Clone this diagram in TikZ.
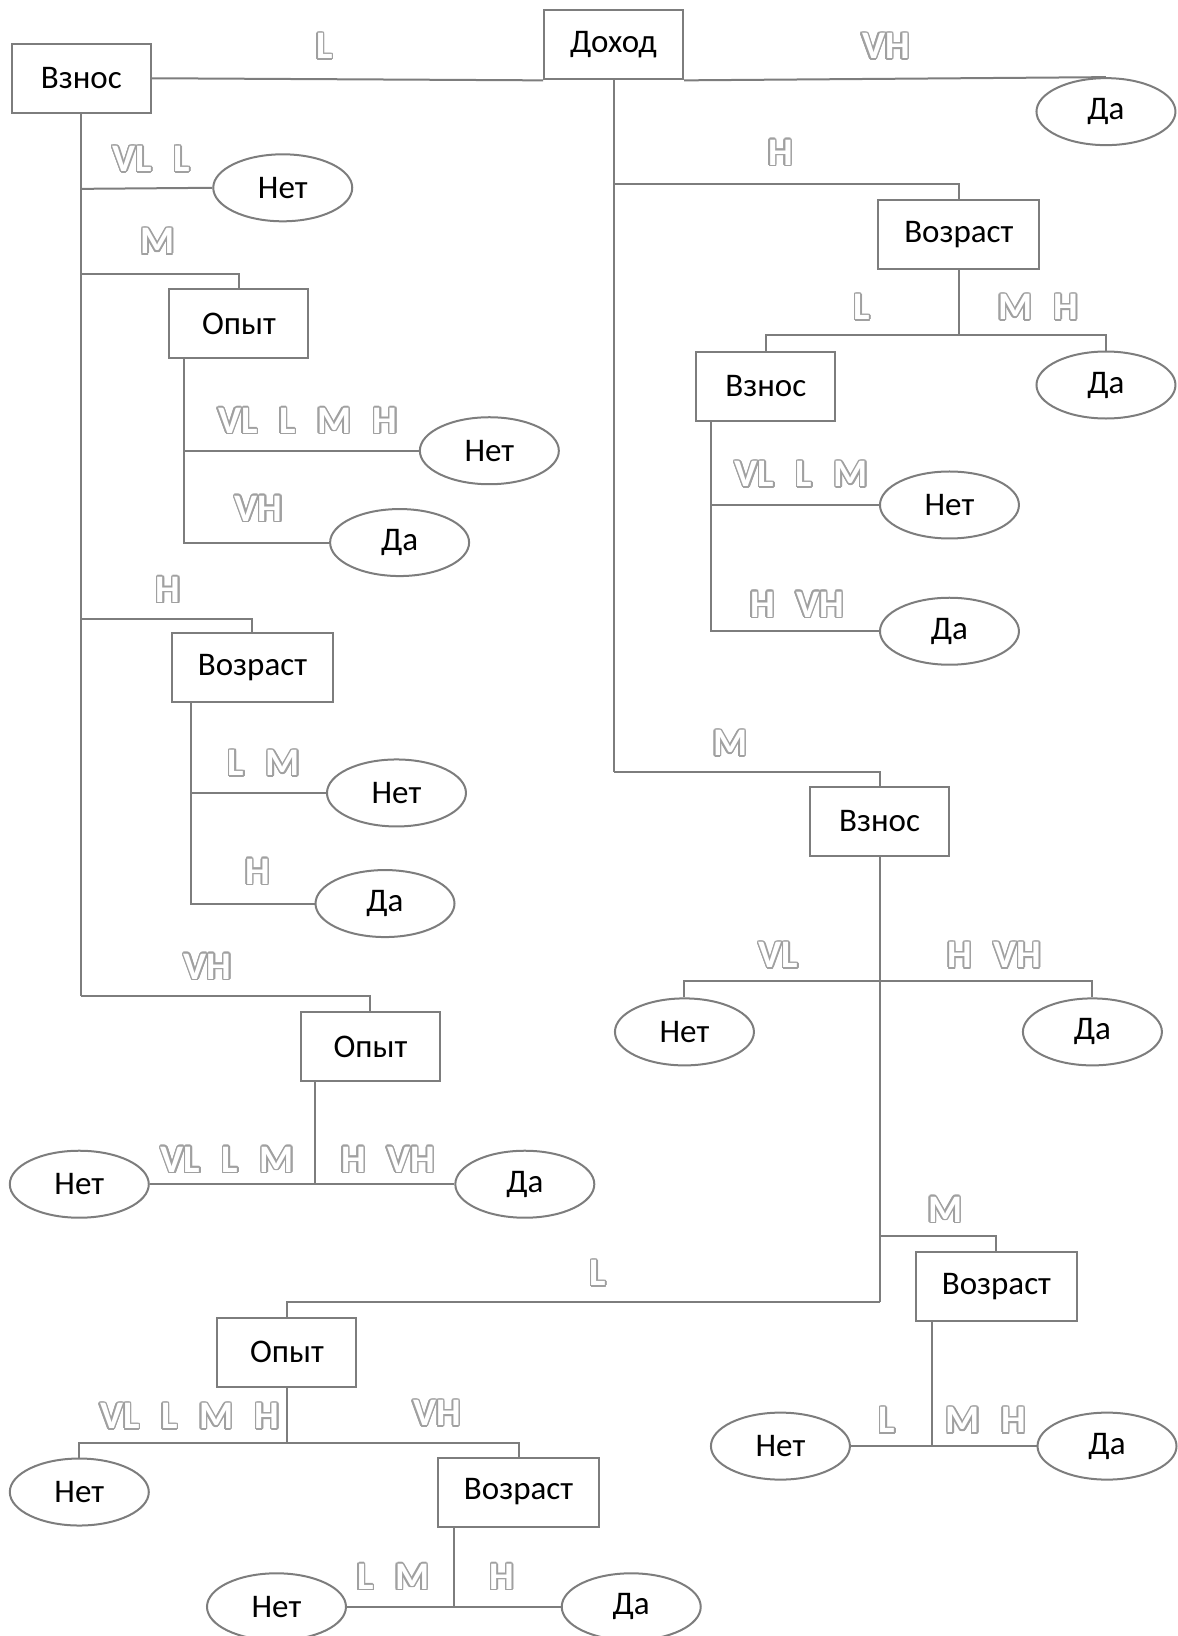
\documentclass[tikz,border=0pt]{standalone}
\usepackage{fontspec}
\setmainfont{Carlito}
\usepackage{contour}
\contourlength{1.5pt}
\usetikzlibrary{shapes.geometric,positioning}
\definecolor{linegray}{RGB}{125,125,125}
\definecolor{lblgray}{RGB}{160,160,160}
\newcommand{\lbl}[1]{\contour{lblgray}{#1}}
\newcommand{\gap}{\hspace{0.55em}}

\tikzset{
  attr/.style={draw=linegray, line width=2pt, rectangle, minimum width=139pt,
    minimum height=69pt, inner sep=0pt, font=\fontsize{33}{36}\selectfont},
  wide/.style={attr, minimum width=161pt},
  leaf/.style={draw=linegray, line width=2pt, ellipse, minimum width=139pt,
    minimum height=67pt, inner sep=0pt, font=\fontsize{33}{36}\selectfont},
  val/.style={text=white, inner sep=0pt, font=\bfseries\fontsize{39}{42}\selectfont},
  edge/.style={draw=linegray, line width=2pt}
}

\begin{document}
\begin{tikzpicture}[x=1.0434pt, y=-1.0434pt]
\useasboundingbox (0,0) rectangle (1129,1568);

% inner nodes
\node[attr] (dohod)  at (588,43)   {Доход};
\node[attr] (vznosA) at (78,75)    {Взнос};
\node[attr] (opytA)  at (229,310)  {Опыт};
\node[wide] (vozrA)  at (242,640)  {Возраст};
\node[attr] (opytB)  at (355,1003) {Опыт};
\node[wide] (vozrB)  at (919,225)  {Возраст};
\node[attr] (vznosB) at (734,370)  {Взнос};
\node[attr] (vznosC) at (843,787)  {Взнос};
\node[wide] (vozrC)  at (955,1233) {Возраст};
\node[attr] (opytC)  at (275,1296) {Опыт};
\node[wide] (vozrD)  at (497,1430) {Возраст};

% leaves
\node[leaf] (daA)  at (1060,107) {Да};
\node[leaf] (netA) at (271,180)  {Нет};
\node[leaf] (netB) at (469,432)  {Нет};
\node[leaf] (daB)  at (383,520)  {Да};
\node[leaf] (netC) at (380,760)  {Нет};
\node[leaf] (daC)  at (369,866)  {Да};
\node[leaf] (netD) at (76,1135)  {Нет};
\node[leaf] (daD)  at (503,1135) {Да};
\node[leaf] (daE)  at (1060,369) {Да};
\node[leaf] (netE) at (910,484)  {Нет};
\node[leaf] (daF)  at (910,605)  {Да};
\node[leaf] (netF) at (656,989)  {Нет};
\node[leaf] (daG)  at (1047,989) {Да};
\node[leaf] (netG) at (748,1386) {Нет};
\node[leaf] (daH)  at (1061,1386) {Да};
\node[leaf] (netH) at (76,1430)  {Нет};
\node[leaf] (netI) at (265,1540) {Нет};
\node[leaf] (daI)  at (605,1540) {Да};

% junctions
\coordinate (jA1) at (78,181);
\coordinate (jA2) at (78,263);
\coordinate (jA3) at (78,593);
\coordinate (jA4) at (78,955);
\coordinate (kB1) at (176,432);
\coordinate (kB2) at (176,520);
\coordinate (kC1) at (183,760);
\coordinate (kC2) at (183,866);
\coordinate (kD)  at (302,1135);
\coordinate (jH)  at (588,176);
\coordinate (jM)  at (588,740);
\coordinate (kE)  at (919,321);
\coordinate (kF1) at (681,484);
\coordinate (kF2) at (681,605);
\coordinate (kG1) at (843,940);
\coordinate (kG2) at (843,1185);
\coordinate (kG3) at (843,1248);
\coordinate (kH)  at (893,1386);
\coordinate (kI)  at (275,1383);
\coordinate (kJ)  at (435,1540);

% connectors
\draw[edge] (vznosA.east) -- (dohod.south west);
\draw[edge] (dohod.south east) -- (daA.north);
\draw[edge] (vznosA.south) -- (jA4);
\draw[edge] (jA1) -- (netA.west);
\draw[edge] (jA2) -| (opytA.north);
\draw[edge] (jA3) -| (vozrA.north);
\draw[edge] (jA4) -| (opytB.north);
\draw[edge] (kB2 |- opytA.south) -- (kB2) -- (daB.west);
\draw[edge] (kB1) -- (netB.west);
\draw[edge] (kC2 |- vozrA.south) -- (kC2) -- (daC.west);
\draw[edge] (kC1) -- (netC.west);
\draw[edge] (kD |- opytB.south) -- (kD);
\draw[edge] (netD.east) -- (daD.west);
\draw[edge] (dohod.south) -- (jM);
\draw[edge] (jH) -| (vozrB.north);
\draw[edge] (jM) -| (vznosC.north);
\draw[edge] (vozrB.south) -- (kE);
\draw[edge] (kE) -| (vznosB.north);
\draw[edge] (kE) -| (daE.north);
\draw[edge] (kF2 |- vznosB.south) -- (kF2) -- (daF.west);
\draw[edge] (kF1) -- (netE.west);
\draw[edge] (vznosC.south) -- (kG3);
\draw[edge] (kG1) -| (netF.north);
\draw[edge] (kG1) -| (daG.north);
\draw[edge] (kG2) -| (vozrC.north);
\draw[edge] (kG3) -| (opytC.north);
\draw[edge] (kH |- vozrC.south) -- (kH);
\draw[edge] (netG.east) -- (daH.west);
\draw[edge] (opytC.south) -- (kI);
\draw[edge] (kI) -| (netH.north);
\draw[edge] (kI) -| (vozrD.north);
\draw[edge] (kJ |- vozrD.south) -- (kJ);
\draw[edge] (netI.east) -- (daI.west);

% branch values
\node[val] (vA1) at (311,45)   {\lbl{L}};
\node[val] (vA2) at (849,45)   {\lbl{VH}};
\node[val] (vA3) at (748,147)  {\lbl{H}};
\node[val] (vA4) at (700,713)  {\lbl{M}};
\node[val] (vB1) at (145,153)  {\lbl{VL\gap L}};
\node[val] (vB2) at (151,232)  {\lbl{M}};
\node[val] (vB3) at (161,566)  {\lbl{H}};
\node[val] (vB4) at (199,927)  {\lbl{VH}};
\node[val] (vC1) at (295,404)  {\lbl{VL\gap L\gap M\gap H}};
\node[val] (vC2) at (248,488)  {\lbl{VH}};
\node[val] (vD1) at (253,732)  {\lbl{L\gap M}};
\node[val] (vD2) at (247,836)  {\lbl{H}};
\node[val] (vE1) at (218,1112) {\lbl{VL\gap L\gap M}};
\node[val] (vE2) at (372,1112) {\lbl{H\gap VH}};
\node[val] (vF1) at (826,295)  {\lbl{L}};
\node[val] (vF2) at (995,295)  {\lbl{M\gap H}};
\node[val] (vG1) at (768,455)  {\lbl{VL\gap L\gap M}};
\node[val] (vG2) at (764,580)  {\lbl{H\gap VH}};
\node[val] (vH1) at (746,916)  {\lbl{VL}};
\node[val] (vH2) at (953,916)  {\lbl{H\gap VH}};
\node[val] (vH3) at (906,1160) {\lbl{M}};
\node[val] (vH4) at (573,1221) {\lbl{L}};
\node[val] (vI1) at (850,1362) {\lbl{L}};
\node[val] (vI2) at (945,1362) {\lbl{M\gap H}};
\node[val] (vJ1) at (182,1358) {\lbl{VL\gap L\gap M\gap H}};
\node[val] (vJ2) at (419,1355) {\lbl{VH}};
\node[val] (vK1) at (377,1512) {\lbl{L\gap M}};
\node[val] (vK2) at (481,1512) {\lbl{H}};
\end{tikzpicture}
\end{document}
